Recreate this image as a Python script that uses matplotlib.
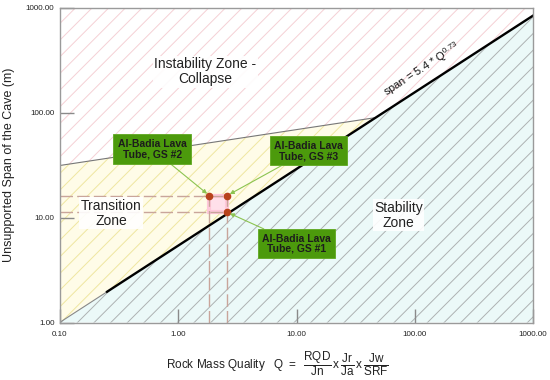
import numpy as np
import matplotlib.pyplot as plt
from matplotlib.ticker import FixedLocator, FuncFormatter, NullLocator

plt.rcParams['font.family'] = ['Liberation Sans', 'DejaVu Sans']
plt.rcParams['mathtext.fontset'] = 'custom'
plt.rcParams['mathtext.rm'] = 'Liberation Sans'
plt.rcParams['mathtext.it'] = 'Liberation Sans'
plt.rcParams['hatch.linewidth'] = 0.7

# span = a * Q^b  (stability limit)
a_coef, b_exp = 5.4, 0.73
q_min, q_max = 0.1, 1000.0
span_min, span_max = 1.0, 1000.0
q_thick_start = 0.25

# upper boundary of the transition zone (end points)
upper_q = [0.1, 46.7]
upper_span = [31.3, 89.4]

# Al-Badia lava tube sites
site_names = ['GS #1', 'GS #2', 'GS #3']
site_q = [2.6, 1.83, 2.6]
site_span = [11.2, 16.2, 16.2]

x_ticks = [0.1, 1, 10, 100, 1000]
y_ticks = [1, 10, 100, 1000]


def span(q):
    return a_coef * np.asarray(q, dtype=float) ** b_exp


fig = plt.figure(figsize=(5.5, 3.8), dpi=100)
ax = fig.add_axes([60 / 550, 1 - 322.5 / 380, 473 / 550, 315 / 380])
ax.set_xscale('log')
ax.set_yscale('log')
ax.set_xlim(q_min, q_max)
ax.set_ylim(span_min, span_max)

# zones
stab_x = [q_min, q_max, q_max, q_min]
stab_y = [span(q_min), span(q_max), span_min, span_min]
ax.fill(stab_x, stab_y, facecolor='#ebf9f8', edgecolor='#adb2b2',
        hatch='//', lw=0, zorder=1)

trans_x = [q_min, upper_q[0], upper_q[1]]
trans_y = [span(q_min), upper_span[0], upper_span[1]]
ax.fill(trans_x, trans_y, facecolor='#fffce8', edgecolor='#efe6a0',
        hatch='//', lw=0, zorder=1)

inst_x = [upper_q[0], q_min, q_max, q_max, upper_q[1]]
inst_y = [upper_span[0], span_max, span_max, span(q_max), upper_span[1]]
ax.fill(inst_x, inst_y, facecolor='white', edgecolor='#f5d0d5',
        hatch='//', lw=0, zorder=1)

# boundary lines
ax.plot(upper_q, upper_span, color='#777777', lw=0.8, zorder=3)
ax.plot([q_min, q_thick_start], span([q_min, q_thick_start]),
        color='#888888', lw=0.8, zorder=3)
ax.plot([q_thick_start, q_max], span([q_thick_start, q_max]),
        color='black', lw=1.7, zorder=4)

# site guide lines
ax.fill([site_q[1], site_q[2], site_q[2], site_q[1]],
        [site_span[0], site_span[0], site_span[1], site_span[1]],
        facecolor='#ffe0ea', edgecolor='#ffc8da', lw=3, zorder=2)
dash_kw = dict(color='#c9a59b', lw=1.0, dashes=(9, 3), zorder=3)
ax.plot([q_min, site_q[2]], [site_span[1], site_span[1]], **dash_kw)
ax.plot([q_min, site_q[0]], [site_span[0], site_span[0]], **dash_kw)
ax.plot([site_q[1], site_q[1]], [span_min, site_span[1]], **dash_kw)
ax.plot([site_q[2], site_q[2]], [span_min, site_span[2]], **dash_kw)

ax.plot(site_q, site_span, 'o', color='#b8431c', ms=4.5, zorder=6)

# site labels
label_pos = [(0.50, 0.25), (0.195, 0.551), (0.525, 0.545)]
for name, q, s, pos in zip(site_names, site_q, site_span, label_pos):
    ax.annotate('Al-Badia Lava\nTube, ' + name, xy=(q, s), xytext=pos,
                textcoords='axes fraction', ha='center', va='center',
                fontsize=7.5, fontweight='bold', color='#1c1c1c',
                linespacing=1.05, zorder=7,
                bbox=dict(boxstyle='square,pad=0.42', fc='#4c9a0c',
                          ec='#5fa820', lw=0.6),
                arrowprops=dict(arrowstyle='-|>', color='#8cc451', lw=0.8,
                                mutation_scale=6, shrinkA=0, shrinkB=2))

# zone labels
zone_box = dict(boxstyle='square,pad=0.1', fc='white', ec='none', alpha=0.9)
ax.text(0.307, 0.796, 'Instability Zone -\nCollapse', transform=ax.transAxes,
        ha='center', va='center', fontsize=10, color='#222222',
        linespacing=1.1, bbox=zone_box, zorder=5)
ax.text(0.108, 0.347, 'Transition\nZone', transform=ax.transAxes,
        ha='center', va='center', fontsize=10, color='#222222',
        linespacing=1.1, bbox=zone_box, zorder=5)
ax.text(0.716, 0.341, 'Stability\nZone', transform=ax.transAxes,
        ha='center', va='center', fontsize=10, color='#222222',
        linespacing=1.1, bbox=zone_box, zorder=5)

# equation along the line
p1 = ax.transData.transform((10, span(10)))
p2 = ax.transData.transform((100, span(100)))
angle = np.degrees(np.arctan2(p2[1] - p1[1], p2[0] - p1[0]))
q_lab = 125
ax.text(q_lab, span(q_lab) * 1.22, r'span = 5.4 * Q$^{0.73}$', rotation=angle,
        rotation_mode='anchor', ha='center', va='bottom', fontsize=8,
        color='#111111', zorder=5)

# axes styling
for sp in ax.spines.values():
    sp.set_color('#9a9a9a')
    sp.set_linewidth(1.0)
    sp.set_zorder(8)
ax.xaxis.set_major_locator(FixedLocator(x_ticks))
ax.yaxis.set_major_locator(FixedLocator(y_ticks))
ax.xaxis.set_minor_locator(NullLocator())
ax.yaxis.set_minor_locator(NullLocator())
fmt = FuncFormatter(lambda v, p: '%.2f' % v)
ax.xaxis.set_major_formatter(fmt)
ax.yaxis.set_major_formatter(fmt)
ax.tick_params(direction='in', length=10, width=1.0, color='#8a8a8a',
               labelsize=5.8, labelcolor='#222222', pad=4)
ax.tick_params(axis='x', pad=6)

ax.set_ylabel('Unsupported Span of the Cave (m)', fontsize=9, color='#222222')
ax.yaxis.set_label_coords(-0.095, 0.5)
fig.text(0.505, 1 - 364 / 380,
         r'Rock Mass Quality   $\mathrm{Q\ =\ \ \dfrac{RQD}{Jn}\,x\,\dfrac{Jr}{Ja}\,x\,\dfrac{Jw}{SRF}}$',
         ha='center', va='center', fontsize=8.5, color='#222222')

fig.savefig('out.png', dpi=100)
